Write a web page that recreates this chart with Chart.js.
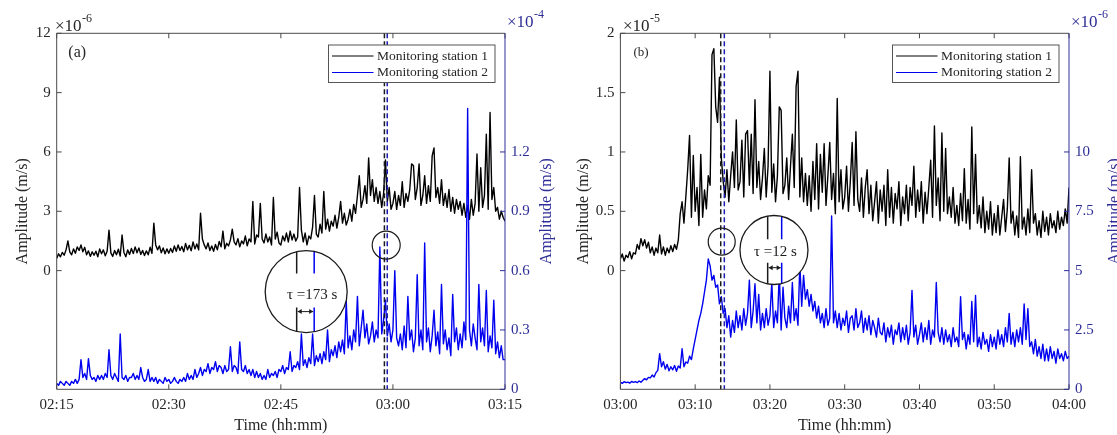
<!DOCTYPE html>
<html>
<head>
<meta charset="utf-8">
<script src="https://cdn.jsdelivr.net/npm/chart.js@4.4.1/dist/chart.umd.min.js"></script>
<style>
body { margin: 0; background: #fff; }
#wrap { position: relative; width: 1117px; height: 435px; overflow: hidden; }
canvas { position: absolute; top: 0; }
#ca { left: 0; }
#cb { left: 563px; }
</style>
</head>
<body>
<div id="wrap">
  <canvas id="ca" width="563" height="435"></canvas>
  <canvas id="cb" width="554" height="435"></canvas>
</div>
<script>
// one sample every 15 s (0.25 min), 60 minutes per panel
var STEP = 0.25;
var legendLabels = ['Monitoring station 1', 'Monitoring station 2'];

// ---- panel (a): 02:15 - 03:15 ----
var ticksA = ['02:15', '02:30', '02:45', '03:00', '03:15'];
// station 1, x1e-6 m/s
var st1A = [
  0.62,0.85,0.70,0.92, 0.78,1.05,1.50,0.95, 0.80,1.10,0.88,1.20, 1.02,1.30,0.95,1.18, 0.80,1.00,0.72,0.95,
  0.78,0.98,0.70,1.10, 0.85,1.05,0.75,0.98, 2.05,0.90,0.72,1.02, 0.80,1.08,0.74,1.80, 0.92,0.70,1.05,0.82,
  1.12,0.86,1.20,0.90, 1.15,0.82,1.02,0.76, 1.00,0.80,1.18,0.88, 2.40,1.30,1.05,1.25, 0.90,1.15,0.85,1.10,
  0.88,1.12,0.92,1.25, 0.98,1.30,1.02,1.22, 0.95,1.38,1.05,1.28, 1.00,1.45,1.10,1.35, 1.05,2.90,1.60,1.30,
  1.10,1.40,1.02,1.25, 0.98,1.32,1.05,1.48, 1.20,2.00,1.10,1.38, 1.25,1.55,2.10,1.45, 1.30,1.62,1.20,1.50,
  1.35,1.75,1.25,1.60, 1.45,3.50,1.35,1.80, 1.70,3.40,1.60,1.40, 1.85,1.45,1.70,1.30, 3.70,1.60,1.95,1.40,
  1.30,1.75,1.50,1.90, 1.45,2.00,1.55,1.85, 1.50,1.70,4.20,2.05, 1.45,1.90,1.30,1.75, 1.60,2.20,3.80,1.85,
  1.70,2.35,1.90,4.00, 2.10,2.60,2.00,2.50, 2.25,2.80,2.15,2.70, 3.50,2.40,2.90,2.30, 2.60,3.10,2.50,3.35,
  2.90,3.80,4.80,3.20, 3.60,4.30,3.40,5.70, 3.80,4.60,3.50,4.20, 3.40,4.00,3.20,3.90, 5.60,3.50,4.20,3.10,
  3.40,4.00,3.10,3.80, 3.30,4.50,3.20,3.90, 3.50,4.10,5.40,5.30, 3.60,4.20,5.40,3.30, 3.80,4.80,3.40,4.30,
  3.50,5.80,6.20,3.70, 4.20,3.40,4.60,3.30, 3.90,3.20,4.10,3.00, 3.70,2.90,3.60,3.10, 3.50,2.80,3.40,2.70,
  3.30,2.60,3.60,2.80, 3.40,5.90,3.00,5.20, 3.20,3.80,6.90,3.10, 8.00,3.60,4.20,3.00, 3.20,2.60,3.00,2.70,
  2.50
];
// station 2, x1e-4 m/s
var st2A = [
  0.03,0.02,0.04,0.03, 0.02,0.04,0.03,0.02, 0.04,0.03,0.05,0.03, 0.05,0.15,0.06,0.08, 0.05,0.155,0.07,0.05,
  0.06,0.04,0.07,0.05, 0.07,0.05,0.08,0.06, 0.20,0.07,0.05,0.08, 0.06,0.04,0.28,0.06, 0.05,0.07,0.04,0.06,
  0.06,0.08,0.05,0.07, 0.05,0.11,0.06,0.04, 0.05,0.10,0.04,0.06, 0.04,0.06,0.03,0.05, 0.04,0.03,0.06,0.04,
  0.05,0.03,0.04,0.06, 0.04,0.03,0.05,0.04, 0.06,0.04,0.08,0.05, 0.07,0.05,0.10,0.06, 0.08,0.11,0.07,0.10,
  0.09,0.13,0.08,0.11, 0.10,0.14,0.09,0.12, 0.11,0.08,0.12,0.09, 0.10,0.215,0.09,0.12, 0.11,0.08,0.24,0.10,
  0.09,0.12,0.08,0.10, 0.07,0.10,0.06,0.09, 0.06,0.08,0.05,0.07, 0.05,0.10,0.06,0.08, 0.07,0.09,0.06,0.10,
  0.09,0.12,0.08,0.11, 0.10,0.19,0.09,0.12, 0.11,0.14,0.10,0.28, 0.12,0.15,0.11,0.16, 0.13,0.28,0.12,0.17,
  0.14,0.18,0.13,0.19, 0.15,0.30,0.14,0.20, 0.17,0.22,0.16,0.24, 0.19,0.25,0.18,0.45, 0.21,0.27,0.20,0.30,
  0.24,0.47,0.22,0.31, 0.40,0.26,0.33,0.23, 0.27,0.34,0.24,0.30, 0.26,0.72,0.28,0.35, 0.45,0.27,0.33,0.24,
  0.30,0.60,0.26,0.22, 0.28,0.20,0.32,0.21, 0.47,0.25,0.30,0.19, 0.26,0.58,0.22,0.30, 0.20,0.74,0.24,0.31,
  0.19,0.27,0.40,0.22, 0.29,0.18,0.53,0.23, 0.30,0.20,0.26,0.17, 0.48,0.24,0.31,0.20, 0.28,0.21,0.34,0.25,
  1.42,0.30,0.22,0.33, 0.26,0.20,0.53,0.24, 0.31,0.22,0.50,0.19, 0.27,0.21,0.45,0.18, 0.24,0.16,0.22,0.15,
  0.15
];
var arrivalsA = [43.86, 44.24];   // minutes after 02:15
var tauA = '173 s';

// ---- panel (b): 03:00 - 04:00 ----
var ticksB = ['03:00', '03:10', '03:20', '03:30', '03:40', '03:50', '04:00'];
// station 1, x1e-5 m/s
var st1B = [
  0.10,0.14,0.08,0.13, 0.11,0.16,0.10,0.15, 0.14,0.22,0.18,0.27, 0.21,0.26,0.19,0.24, 0.15,0.20,0.13,0.19,
  0.15,0.30,0.14,0.20, 0.13,0.19,0.15,0.21, 0.16,0.22,0.18,0.26, 0.48,0.58,0.40,0.62, 0.85,1.14,0.45,0.97,
  0.50,0.70,0.38,0.98, 0.45,0.68,0.52,0.80, 0.72,1.82,1.87,1.38, 1.25,1.63,0.95,0.75, 0.62,0.85,0.58,0.80,
  1.00,0.70,1.27,0.68, 0.75,1.10,0.62,1.15, 1.18,0.72,1.15,0.65, 1.44,0.70,0.92,0.60, 0.78,1.03,0.62,0.88,
  1.68,0.66,0.90,0.58, 0.80,1.38,1.35,0.65, 0.72,0.95,0.60,0.88, 1.15,0.70,1.55,1.68, 0.62,0.95,0.58,0.82,
  0.55,0.80,0.50,0.92, 0.60,1.07,0.52,0.98, 0.66,1.07,0.55,0.80, 1.08,0.60,0.82,0.48, 1.45,0.58,0.85,0.52,
  0.62,0.88,0.50,0.75, 1.08,0.55,1.17,0.60, 0.50,0.78,0.45,0.70, 0.85,0.48,0.72,0.42, 0.58,0.75,0.40,0.68,
  0.50,0.72,0.38,0.85, 0.45,0.70,0.40,0.65, 0.52,0.75,0.38,0.62, 0.48,0.72,0.42,0.70, 0.55,0.88,0.45,0.68,
  0.50,0.75,0.40,0.66, 0.48,0.70,0.93,0.45, 1.22,0.55,0.78,0.42, 1.16,0.50,1.03,0.48, 0.62,0.45,0.70,0.40,
  0.55,0.38,0.65,0.42, 0.86,0.40,0.60,0.35, 1.21,0.48,0.98,0.40, 0.55,0.36,0.62,0.32, 0.50,0.35,0.58,0.30,
  0.48,0.32,0.55,0.30, 0.45,0.60,0.33,0.52, 0.95,0.40,0.50,0.30, 0.46,0.28,0.96,0.35, 0.45,0.30,0.52,0.32,
  0.85,0.40,0.48,0.30, 0.42,0.28,0.50,0.33, 0.45,0.30,0.48,0.36, 0.42,0.32,0.50,0.35, 0.45,0.38,0.52,0.40,
  0.70
];
// station 2, x1e-6 m/s
var st2B = [
  0.30,0.25,0.32,0.28, 0.30,0.26,0.33,0.29, 0.32,0.28,0.35,0.30, 0.38,0.45,0.40,0.50, 0.48,0.60,0.52,0.70,
  0.80,1.50,0.95,1.16, 0.85,1.05,0.78,0.95, 0.82,1.00,0.76,0.98, 0.90,1.71,0.95,1.15, 1.10,1.40,1.25,1.70,
  2.10,2.50,2.90,3.20, 3.60,4.10,4.60,5.49, 5.20,4.60,4.80,4.30, 4.40,3.60,3.90,3.20, 3.40,2.60,3.10,2.20,
  2.90,2.40,3.30,2.60, 3.10,2.50,3.40,2.70, 3.20,4.60,2.60,3.30, 4.45,2.80,4.00,2.50, 3.20,2.60,3.40,2.70,
  3.10,4.50,2.60,3.30, 2.80,4.90,2.50,4.30, 3.00,2.60,3.50,2.80, 4.50,2.90,3.40,2.70, 5.28,3.50,4.80,3.80,
  4.20,3.50,4.00,3.30, 3.70,3.00,3.50,2.80, 3.20,2.60,3.40,2.70, 3.00,7.30,2.80,3.30, 2.60,3.20,2.50,3.00,
  2.70,3.30,2.40,3.00, 3.10,2.50,3.40,2.60, 2.80,3.30,2.40,3.00, 2.50,3.10,2.30,2.90, 2.60,2.20,3.00,2.40,
  2.30,2.80,2.00,2.60, 2.20,2.70,1.90,2.50, 2.30,2.80,2.00,2.60, 2.10,2.70,1.90,2.40, 4.17,2.20,2.70,1.90,
  2.30,2.80,2.00,2.60, 2.10,2.90,1.90,2.50, 2.20,4.50,2.40,2.00, 2.60,1.90,2.50,2.00, 2.30,1.80,2.60,2.00,
  2.20,1.80,3.90,2.10, 2.40,1.70,2.30,1.90, 3.70,2.00,3.95,1.80, 2.20,1.70,2.40,1.90, 2.10,1.60,2.30,1.80,
  2.20,1.70,2.50,1.90, 2.30,1.80,2.60,2.00, 3.20,1.90,2.40,1.80, 2.50,2.00,2.60,1.90, 3.60,2.10,3.40,1.80,
  2.00,1.50,2.10,1.40, 1.80,1.30,1.90,1.20, 1.70,1.20,1.80,1.30, 1.60,1.10,1.70,1.30, 1.50,1.20,1.60,1.30,
  1.40
];
var arrivalsB = [13.42, 13.9];    // minutes after 03:00
var tauB = '12 s';

var FONT = '"Liberation Serif", "Times New Roman", serif';
var BLACK = '#000000', BLUE = '#0000f0', NAVY = '#2e2e98', AXIS = '#4a4a4a', TXT = '#262626';
Chart.defaults.font.family = FONT;

function toXY(vals) {
  return vals.map(function (v, i) { return { x: i * STEP, y: v }; });
}

function drawExp(ctx, x, y, e, col) {
  ctx.fillStyle = col;
  ctx.textAlign = 'left';
  ctx.textBaseline = 'alphabetic';
  ctx.font = '17px ' + FONT;
  ctx.fillText('\u00d710', x, y);
  var w = ctx.measureText('\u00d710').width;
  ctx.font = '12px ' + FONT;
  ctx.fillText(e, x + w + 0.5, y - 8.5);
}

// frame, inward ticks, arrival markers, zoom circles, legend, extra texts
function decor(p) {
  return {
    id: 'decor',
    afterDatasetsDraw: function (chart) {
      var ctx = chart.ctx, ca = chart.chartArea;
      var sx = chart.scales.x, sl = chart.scales.y, sr = chart.scales.y2;
      ctx.save();

      // dashed arrival lines
      ctx.lineWidth = 1.5;
      ctx.setLineDash([5, 3]);
      p.arrivals.forEach(function (t, i) {
        var px = sx.getPixelForValue(t);
        ctx.strokeStyle = i === 0 ? '#1a1a1a' : '#1c1cb0';
        ctx.beginPath();
        ctx.moveTo(px, ca.top);
        ctx.lineTo(px, ca.bottom);
        ctx.stroke();
      });
      ctx.setLineDash([]);

      // small circle
      ctx.strokeStyle = '#1a1a1a';
      ctx.lineWidth = 1.2;
      ctx.beginPath();
      ctx.arc(sx.getPixelForValue(p.small[0]), sl.getPixelForValue(p.small[1]), p.small[2], 0, 2 * Math.PI);
      ctx.stroke();

      // zoomed inset
      var z = p.zoom;
      var cx = sx.getPixelForValue(z.t), cy = sl.getPixelForValue(z.v);
      ctx.beginPath();
      ctx.ellipse(cx, cy, z.rx, z.ry, 0, 0, 2 * Math.PI);
      ctx.fillStyle = '#fff';
      ctx.fill();
      ctx.save();
      ctx.clip();
      ctx.lineWidth = 1.5;
      [[z.dk, '#1a1a1a'], [z.db, BLUE]].forEach(function (m) {
        ctx.strokeStyle = m[1];
        ctx.beginPath();
        ctx.moveTo(cx + m[0], cy - z.ry);
        ctx.lineTo(cx + m[0], cy + z.gapTop);
        ctx.moveTo(cx + m[0], cy + z.gapBot);
        ctx.lineTo(cx + m[0], cy + z.ry);
        ctx.stroke();
      });
      ctx.restore();
      ctx.strokeStyle = '#1a1a1a';
      ctx.lineWidth = 1.3;
      ctx.beginPath();
      ctx.ellipse(cx, cy, z.rx, z.ry, 0, 0, 2 * Math.PI);
      ctx.stroke();
      var ay = cy + z.ay, a0 = cx + z.dk + 1, a1 = cx + z.db - 1;
      ctx.lineWidth = 1;
      ctx.beginPath();
      ctx.moveTo(a0, ay);
      ctx.lineTo(a1, ay);
      ctx.stroke();
      ctx.fillStyle = '#1a1a1a';
      ctx.beginPath();
      ctx.moveTo(a0, ay); ctx.lineTo(a0 + 4, ay - 2.5); ctx.lineTo(a0 + 4, ay + 2.5);
      ctx.fill();
      ctx.beginPath();
      ctx.moveTo(a1, ay); ctx.lineTo(a1 - 4, ay - 2.5); ctx.lineTo(a1 - 4, ay + 2.5);
      ctx.fill();
      ctx.font = '15px ' + FONT;
      ctx.textAlign = 'center';
      ctx.textBaseline = 'middle';
      ctx.fillText('\u03c4 =' + z.tau, cx + z.tx, cy + z.ty);

      // axes box and inward ticks
      ctx.lineWidth = 1;
      ctx.strokeStyle = AXIS;
      ctx.beginPath();
      ctx.moveTo(ca.right, ca.top);
      ctx.lineTo(ca.left, ca.top);
      ctx.lineTo(ca.left, ca.bottom);
      ctx.lineTo(ca.right, ca.bottom);
      sx.ticks.forEach(function (t) {
        var px = sx.getPixelForValue(t.value);
        ctx.moveTo(px, ca.bottom); ctx.lineTo(px, ca.bottom - 5);
        ctx.moveTo(px, ca.top); ctx.lineTo(px, ca.top + 5);
      });
      sl.ticks.forEach(function (t) {
        var py = sl.getPixelForValue(t.value);
        ctx.moveTo(ca.left, py); ctx.lineTo(ca.left + 5, py);
      });
      ctx.stroke();
      ctx.strokeStyle = NAVY;
      ctx.beginPath();
      ctx.moveTo(ca.right, ca.top);
      ctx.lineTo(ca.right, ca.bottom);
      sr.ticks.forEach(function (t) {
        var py = sr.getPixelForValue(t.value);
        ctx.moveTo(ca.right, py); ctx.lineTo(ca.right - 5, py);
      });
      ctx.stroke();

      // legend box
      var bx = ca.right - 176.5, by = ca.top + 11.7, bw = 166.5, bh = 37.5;
      ctx.fillStyle = '#fff';
      ctx.fillRect(bx, by, bw, bh);
      ctx.strokeStyle = '#555';
      ctx.strokeRect(bx, by, bw, bh);
      ctx.font = '13.5px ' + FONT;
      ctx.textAlign = 'left';
      ctx.textBaseline = 'middle';
      chart.data.datasets.forEach(function (ds, i) {
        var ry = by + 11 + i * 16.5;
        ctx.strokeStyle = ds.borderColor;
        ctx.lineWidth = 1;
        ctx.beginPath();
        ctx.moveTo(bx + 3.5, ry);
        ctx.lineTo(bx + 45, ry);
        ctx.stroke();
        ctx.fillStyle = TXT;
        ctx.fillText(ds.label, bx + 48.5, ry);
      });

      // panel tag
      ctx.fillStyle = TXT;
      ctx.font = p.tagFont + FONT;
      ctx.fillText(p.tag, ca.left + p.tagX, ca.top + 19);

      // exponent labels
      drawExp(ctx, ca.left + p.expLx, ca.top - 2.5, p.expL, TXT);
      drawExp(ctx, ca.right + 2, ca.top - 6.5, p.expR, NAVY);

      // right axis title, same rotation as the left one
      ctx.save();
      ctx.translate(ca.right + p.rTitle, (ca.top + ca.bottom) / 2);
      ctx.rotate(-Math.PI / 2);
      ctx.fillStyle = NAVY;
      ctx.font = '16px ' + FONT;
      ctx.textAlign = 'center';
      ctx.textBaseline = 'middle';
      ctx.fillText('Amplitude (m/s)', 0, 0);
      ctx.restore();

      ctx.restore();
    }
  };
}

function numLabel(v) {
  return String(parseFloat(v.toFixed(2)));
}

function makeChart(id, p) {
  return new Chart(document.getElementById(id), {
    type: 'line',
    data: {
      datasets: [
        { label: legendLabels[0], data: toXY(p.s1), yAxisID: 'y', borderColor: BLACK,
          borderWidth: 1.4, pointRadius: 0, order: 1 },
        { label: legendLabels[1], data: toXY(p.s2), yAxisID: 'y2', borderColor: BLUE,
          borderWidth: 1.4, pointRadius: 0, order: 0 }
      ]
    },
    options: {
      responsive: false,
      animation: false,
      events: [],
      layout: { padding: { top: 33.3, left: 0, right: 0, bottom: 0 } },
      plugins: { legend: { display: false }, tooltip: { enabled: false } },
      elements: { line: { tension: 0, borderJoinStyle: 'round' } },
      scales: {
        x: {
          type: 'linear', min: 0, max: 60,
          grid: { display: false, drawTicks: false }, border: { display: false },
          ticks: { stepSize: p.xStep, autoSkip: false, maxRotation: 0, padding: 7, color: TXT,
                   font: { size: 15 },
                   callback: function (v) { return p.xLabels[Math.round(v / p.xStep)]; } },
          title: { display: true, text: 'Time (hh:mm)', color: TXT, font: { size: 16 },
                   padding: { top: 0, bottom: 0 } },
          afterFit: function (s) { s.height = 45.7; }
        },
        y: {
          position: 'left', min: p.yl[0], max: p.yl[1],
          grid: { display: false, drawTicks: false }, border: { display: false },
          ticks: { stepSize: p.yl[2], autoSkip: false, padding: 6, color: TXT, font: { size: 15 },
                   callback: numLabel },
          afterBuildTicks: function (s) {
            s.ticks = s.ticks.filter(function (t) { return t.value >= -1e-9; });
          },
          title: { display: true, text: 'Amplitude (m/s)', color: TXT, font: { size: 16 },
                   padding: { top: p.yTitlePad, bottom: 0 } },
          afterFit: function (s) { s.width = p.axisW[0]; }
        },
        y2: {
          position: 'right', min: p.yr[0], max: p.yr[1],
          grid: { display: false, drawTicks: false }, border: { display: false },
          ticks: { stepSize: p.yr[2], autoSkip: false, padding: 6, color: NAVY, font: { size: 15 },
                   callback: numLabel },
          afterBuildTicks: function (s) {
            s.ticks = s.ticks.filter(function (t) { return t.value <= p.yr[3] + 1e-9; });
          },
          afterFit: function (s) { s.width = p.axisW[1]; }
        }
      }
    },
    plugins: [decor(p)]
  });
}

makeChart('ca', {
  s1: st1A, s2: st2A, xLabels: ticksA, xStep: 15,
  yl: [-6, 12, 3], yr: [0, 1.8, 0.3, 1.2],
  axisW: [56.7, 58], yTitlePad: 13,
  arrivals: arrivalsA,
  small: [44.10, 1.29, 14],
  zoom: { t: 33.39, v: -1.06, rx: 41, ry: 41, dk: -9.5, db: 8, gapTop: -18, gapBot: 16,
          ay: 20, tx: 6, ty: 3.5, tau: tauA },
  tag: '(a)', tagFont: '16px ', tagX: 11.6,
  expL: '-6', expR: '-4', expLx: -1.7, rTitle: 41.8
});

makeChart('cb', {
  s1: st1B, s2: st2B, xLabels: ticksB, xStep: 10,
  yl: [-1, 2, 0.5], yr: [0, 15, 2.5, 10],
  axisW: [57.4, 48], yTitlePad: 10.7,
  arrivals: arrivalsB,
  small: [13.55, 0.244, 13.5],
  zoom: { t: 20.54, v: 0.174, rx: 34, ry: 34.5, dk: -6.3, db: 7.7, gapTop: -10.7, gapBot: 12.7,
          ay: 17.7, tx: 1.5, ty: 1.7, tau: tauB },
  tag: '(b)', tagFont: '13px ', tagX: 13,
  expL: '-5', expR: '-6', expLx: 2.6, rTitle: 46
});
</script>
</body>
</html>
